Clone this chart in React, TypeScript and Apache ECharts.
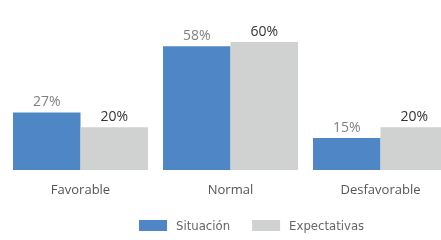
import React, { useEffect, useRef } from "react";
import * as echarts from "echarts";

const categories = ["Favorable", "Normal", "Desfavorable"];
const situacion = [27, 58, 15];
const expectativas = [20, 60, 20];
const seriesNames = ["Situación", "Expectativas"];

export default function App() {
  const ref = useRef<HTMLDivElement>(null);
  useEffect(() => {
    if (!ref.current) return;
    const chart = echarts.init(ref.current, null, { renderer: "svg" });
    chart.setOption({
      animation: false,
      grid: { left: 5.5, width: 450, top: 42, bottom: 70, containLabel: false, outerBoundsMode: "none" },
      legend: {
        bottom: 3,
        left: 134,
        itemWidth: 28,
        itemHeight: 11,
        itemGap: 22,
        icon: "rect",
        textStyle: {
          color: "#666",
          fontSize: 13,
          padding: [0, 0, 0, 4],
          fontFamily: "'DejaVu Sans Condensed', 'Liberation Sans Narrow', 'Roboto', sans-serif",
        },
        data: seriesNames,
      },
      xAxis: {
        type: "category",
        data: categories,
        axisLine: { show: false },
        axisTick: { show: false },
        axisLabel: {
          color: "#555",
          fontSize: 13,
          margin: 12,
          fontFamily: "'Open Sans', sans-serif",
        },
      },
      yAxis: {
        type: "value",
        min: 0,
        max: 60,
        show: false,
        splitLine: { show: false },
      },
      series: [
        {
          name: seriesNames[0],
          type: "bar",
          data: situacion,
          barGap: "0%",
          barCategoryGap: "10%",
          itemStyle: { color: "#4e86c6" },
          label: {
            show: true,
            position: "top",
            formatter: "{c}%",
            color: "#7f7f7f",
            fontSize: 14,
            distance: 5,
            fontFamily: "'Open Sans', sans-serif",
          },
        },
        {
          name: seriesNames[1],
          type: "bar",
          data: expectativas,
          barGap: "0%",
          barCategoryGap: "10%",
          itemStyle: { color: "#d0d1d1" },
          label: {
            show: true,
            position: "top",
            formatter: "{c}%",
            color: "#333",
            fontSize: 14,
            distance: 5,
            fontFamily: "'Open Sans', sans-serif",
          },
        },
      ],
    });
    return () => chart.dispose();
  }, []);
  return <div ref={ref} style={{ width: 441, height: 240, position: "fixed", left: 0, top: 0 }} />;
}
